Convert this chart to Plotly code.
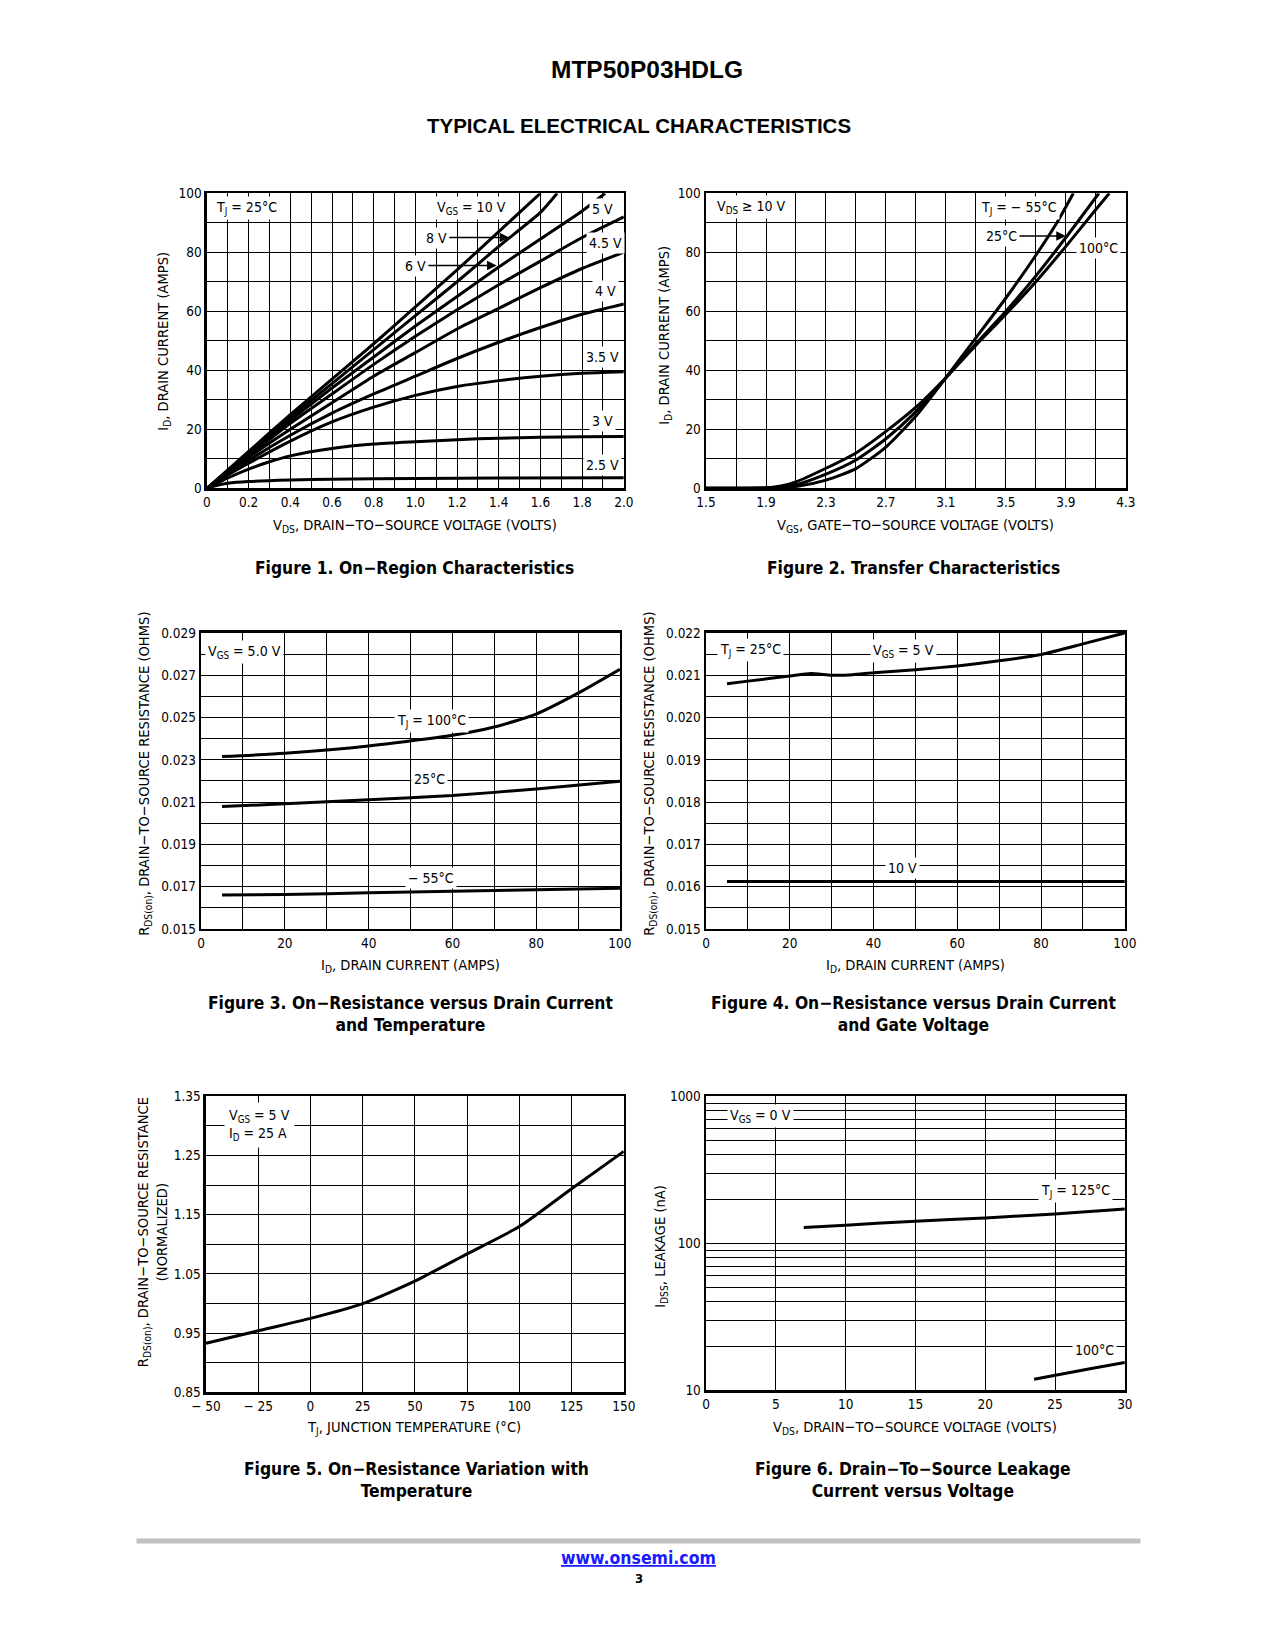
import math
import plotly.graph_objects as go

# Page is 1275 x 1650; the browser body keeps its default 8 px margin,
# so the figure itself is 16 px smaller and every page position is shifted by 8 px.
PAGE_W, PAGE_H = 1275, 1650
OFF = 8
FW, FH = PAGE_W - 2 * OFF, PAGE_H - 2 * OFF
NARROW = "Liberation Sans Narrow, Arial Narrow, DejaVu Sans Condensed, sans-serif"
WIDE = "Liberation Sans, Arial, Helvetica, sans-serif"

# ---------------- Figure 1: On-Region Characteristics (TJ = 25C) ----------------
f1_vds_10v = [0, 0.2, 0.4, 0.6, 0.8, 1.0, 1.2, 1.4, 1.6]
f1_id_10v = [0, 12.5, 25, 37, 49, 61.5, 74, 87, 100]
f1_vds_8v = [0, 0.2, 0.4, 0.6, 0.8, 1.0, 1.2, 1.4, 1.6, 1.68]
f1_id_8v = [0, 12, 24, 35.5, 47, 58.5, 70, 82, 93.5, 100]
f1_vds_6v = [0, 0.2, 0.4, 0.6, 0.8, 1.0, 1.2, 1.4, 1.6, 1.8, 1.91]
f1_id_6v = [0, 11.5, 23, 34, 44.5, 55, 65, 75, 84.5, 94, 100]
f1_vds_5v = [0, 0.2, 0.4, 0.6, 0.8, 1.0, 1.2, 1.4, 1.6, 1.8, 2.0]
f1_id_5v = [0, 11, 22, 32, 42, 51.5, 60.5, 69, 77, 85, 92]
f1_vds_45v = [0, 0.2, 0.4, 0.6, 0.8, 1.0, 1.2, 1.4, 1.6, 1.8, 2.0]
f1_id_45v = [0, 10.5, 20, 29, 38, 46, 54, 61, 68, 74.5, 80]
f1_vds_4v = [0, 0.2, 0.4, 0.6, 0.8, 1.0, 1.2, 1.4, 1.6, 1.8, 2.0]
f1_id_4v = [0, 9.5, 18, 25.5, 32, 38, 44, 49.5, 54.5, 59, 62.5]
f1_vds_35v = [0, 0.1, 0.2, 0.4, 0.6, 0.8, 1.0, 1.2, 1.4, 1.6, 1.8, 2.0]
f1_id_35v = [0, 4.5, 8.5, 16, 22.5, 27.5, 31.5, 34.5, 36.5, 38, 39, 39.5]
f1_vds_3v = [0, 0.1, 0.2, 0.3, 0.4, 0.6, 0.8, 1.0, 1.2, 1.4, 1.6, 1.8, 2.0]
f1_id_3v = [0, 3.5, 6.5, 9, 11, 13.5, 15, 15.8, 16.5, 17, 17.3, 17.5, 17.6]
f1_vds_25v = [0, 0.05, 0.1, 0.2, 0.4, 0.6, 1.0, 1.4, 2.0]
f1_id_25v = [0, 1.0, 1.7, 2.3, 2.8, 3.1, 3.3, 3.5, 3.6]

# ---------------- Figure 2: Transfer Characteristics ----------------
f2_vgs_m55 = [1.5, 1.8, 1.95, 2.1, 2.3, 2.5, 2.7, 2.9, 3.1, 3.3, 3.5, 3.7, 3.84, 3.95]
f2_id_m55 = [0, 0, 0.1, 0.6, 2.8, 6.7, 14, 24.5, 37.5, 51, 64.5, 79, 90, 100]
f2_vgs_25 = [1.5, 1.8, 1.95, 2.1, 2.3, 2.5, 2.7, 2.9, 3.1, 3.3, 3.5, 3.7, 3.9, 4.12]
f2_id_25 = [0, 0, 0.2, 1.2, 4.8, 9.6, 16.8, 26, 37.5, 49, 60, 72, 85, 100]
f2_vgs_100 = [1.5, 1.75, 1.9, 2.0, 2.1, 2.3, 2.5, 2.7, 2.9, 3.1, 3.3, 3.5, 3.7, 3.9, 4.1, 4.19]
f2_id_100 = [0, 0, 0.2, 0.8, 2.2, 6.8, 12, 19.3, 27.5, 37.5, 48.5, 59, 70, 82, 94.5, 100]

# ---------------- Figure 3: RDS(on) vs ID and temperature ----------------
f3_id = [5, 20, 40, 60, 70, 80, 90, 100]
f3_r_100 = [0.02315, 0.02331, 0.02365, 0.02416, 0.02455, 0.02516, 0.02615, 0.02728]
f3_id_b = [5, 20, 40, 60, 80, 100]
f3_r_25 = [0.02079, 0.02092, 0.02111, 0.02131, 0.02162, 0.02198]
f3_r_m55 = [0.01661, 0.01663, 0.01671, 0.01678, 0.01686, 0.01692]

# ---------------- Figure 4: RDS(on) vs ID and gate voltage ----------------
f4_id_5v = [5, 10, 20, 25, 30, 35, 40, 50, 60, 70, 80, 90, 100]
f4_r_5v = [0.0208, 0.02086, 0.02098, 0.02104, 0.0210, 0.02101, 0.02106, 0.02113,
           0.02122, 0.02134, 0.02149, 0.02174, 0.0220]
f4_id_10v = [5, 100]
f4_r_10v = [0.01612, 0.01612]

# ---------------- Figure 5: normalized RDS(on) vs TJ ----------------
f5_tj = [-50, -25, 0, 25, 50, 75, 100, 125, 150]
f5_r = [0.933, 0.954, 0.975, 1.0, 1.038, 1.084, 1.130, 1.194, 1.257]

# ---------------- Figure 6: IDSS leakage vs VDS ----------------
f6_vds_125 = [7, 10, 15, 20, 25, 28, 30]
f6_i_125 = [128, 133, 141.6, 149, 158.5, 166, 171]
f6_vds_100 = [23.5, 27.6, 30]
f6_i_100 = [11.9, 14.1, 15.5]

# ---------------- tick labels ----------------
f1_xticks = [0, 0.2, 0.4, 0.6, 0.8, 1.0, 1.2, 1.4, 1.6, 1.8, 2.0]
f1_xtext = ["0", "0.2", "0.4", "0.6", "0.8", "1.0", "1.2", "1.4", "1.6", "1.8", "2.0"]
f12_yticks = [0, 20, 40, 60, 80, 100]
f2_xticks = [1.5, 1.9, 2.3, 2.7, 3.1, 3.5, 3.9, 4.3]
f2_xtext = ["1.5", "1.9", "2.3", "2.7", "3.1", "3.5", "3.9", "4.3"]
f34_xticks = [0, 20, 40, 60, 80, 100]
f3_yticks = [0.015, 0.017, 0.019, 0.021, 0.023, 0.025, 0.027, 0.029]
f4_yticks = [0.015, 0.016, 0.017, 0.018, 0.019, 0.020, 0.021, 0.022]
f5_xticks = [-50, -25, 0, 25, 50, 75, 100, 125, 150]
f5_xtext = ["− 50", "− 25", "0", "25", "50", "75", "100", "125", "150"]
f5_yticks = [0.85, 0.95, 1.05, 1.15, 1.25, 1.35]
f6_xticks = [0, 5, 10, 15, 20, 25, 30]
f6_yticks = [10, 100, 1000]
f6_yminor = [k * 10 ** d for d in (1, 2) for k in range(2, 10)]

fig = go.Figure()

def curve(x, y, ax):
    fig.add_trace(go.Scatter(x=x, y=y, mode="lines", xaxis="x" + ax, yaxis="y" + ax,
                             line=dict(color="black", width=3, shape="spline", smoothing=0.6),
                             showlegend=False, hoverinfo="skip"))

for xs, ys in [(f1_vds_10v, f1_id_10v), (f1_vds_8v, f1_id_8v), (f1_vds_6v, f1_id_6v),
               (f1_vds_5v, f1_id_5v), (f1_vds_45v, f1_id_45v), (f1_vds_4v, f1_id_4v),
               (f1_vds_35v, f1_id_35v), (f1_vds_3v, f1_id_3v), (f1_vds_25v, f1_id_25v)]:
    curve(xs, ys, "")
for xs, ys in [(f2_vgs_m55, f2_id_m55), (f2_vgs_25, f2_id_25), (f2_vgs_100, f2_id_100)]:
    curve(xs, ys, "2")
curve(f3_id, f3_r_100, "3")
curve(f3_id_b, f3_r_25, "3")
curve(f3_id_b, f3_r_m55, "3")
curve(f4_id_5v, f4_r_5v, "4")
curve(f4_id_10v, f4_r_10v, "4")
curve(f5_tj, f5_r, "5")
curve(f6_vds_125, f6_i_125, "6")
curve(f6_vds_100, f6_i_100, "6")

def px_x(p):
    """page pixel -> paper fraction"""
    return (p - OFF) / FW

def px_y(p):
    return 1 - (p - OFF) / FH

def axis(domain_px, anchor, rng, tickvals, ticktext=None, minor=None, log=False, vertical=False):
    if vertical:
        dom = [px_y(domain_px[1]), px_y(domain_px[0])]
    else:
        dom = [px_x(domain_px[0]), px_x(domain_px[1])]
    d = dict(domain=dom, anchor=anchor, range=rng, tickmode="array", tickvals=tickvals,
             showline=True, linecolor="black", linewidth=2.5, mirror=True,
             showgrid=True, gridcolor="black", gridwidth=1, zeroline=False,
             ticks="", tickfont=dict(family=NARROW, size=13.5, color="black"),
             fixedrange=True, layer="below traces")
    if ticktext is not None:
        d["ticktext"] = ticktext
    if log:
        d["type"] = "log"
    if minor is not None:
        m = dict(showgrid=True, gridcolor="black", gridwidth=1, ticks="")
        m.update(minor)
        d["minor"] = m
    return d

layout = dict(
    width=FW, height=FH, autosize=False, paper_bgcolor="white", plot_bgcolor="white",
    margin=dict(l=0, r=0, t=0, b=0), showlegend=False,
    xaxis=axis((196, 622), "y", [0, 2], f1_xticks, f1_xtext, dict(tick0=0, dtick=0.1)),
    yaxis=axis((187, 485), "x", [0, 100], f12_yticks, None, dict(tick0=0, dtick=10), vertical=True),
    xaxis2=axis((706, 1135), "y2", [1.5, 4.3], f2_xticks, f2_xtext, dict(tick0=1.5, dtick=0.2)),
    yaxis2=axis((187, 485), "x2", [0, 100], f12_yticks, None, dict(tick0=0, dtick=10), vertical=True),
    xaxis3=axis((190, 618), "y3", [0, 100], f34_xticks, None, dict(tick0=0, dtick=10)),
    yaxis3=axis((631, 930), "x3", [0.015, 0.029], f3_yticks, [f"{v:.3f}" for v in f3_yticks],
                dict(tick0=0.015, dtick=0.001), vertical=True),
    xaxis4=axis((706, 1134), "y4", [0, 100], f34_xticks, None, dict(tick0=0, dtick=10)),
    yaxis4=axis((631, 930), "x4", [0.015, 0.022], f4_yticks, [f"{v:.3f}" for v in f4_yticks],
                dict(tick0=0.015, dtick=0.0005), vertical=True),
    xaxis5=axis((195, 622), "y5", [-50, 150], f5_xticks, f5_xtext, dict(tick0=-50, dtick=25)),
    yaxis5=axis((1099, 1398), "x5", [0.85, 1.35], f5_yticks, [f"{v:.2f}" for v in f5_yticks],
                dict(tick0=0.85, dtick=0.05), vertical=True),
    xaxis6=axis((706, 1134), "y6", [0, 30], f6_xticks, None, dict(tick0=0, dtick=5)),
    yaxis6=axis((1099, 1396), "x6", [1, 3], f6_yticks, ["10", "100", "1000"],
                dict(tickmode="array", tickvals=f6_yminor), log=True, vertical=True),
)
fig.update_layout(**layout)

ann = []

def label(text, x, y, ax="", size=14, **kw):
    d = dict(text=text, x=x, y=y, xref="x" + ax, yref="y" + ax, showarrow=False,
             font=dict(family=NARROW, size=size, color="black"), bgcolor="white",
             borderpad=2, xanchor="center", yanchor="middle")
    d.update(kw)
    ann.append(d)

def arrow_label(text, x, y, tx, ty, ax=""):
    ann.append(dict(text=text, x=x, y=y, ax=tx, ay=ty, xref="x" + ax, yref="y" + ax,
                    axref="x" + ax, ayref="y" + ax, showarrow=True, arrowhead=2,
                    arrowsize=1.2, arrowwidth=1.6, arrowcolor="black", standoff=0,
                    font=dict(family=NARROW, size=14, color="black"), bgcolor="white",
                    borderpad=2))

# Figure 1 labels
label("T<sub>J</sub> = 25°C", 0.19, 95)
label("V<sub>GS</sub> = 10 V", 1.27, 95)
arrow_label("8 V", 1.45, 85, 1.10, 85)
arrow_label("6 V", 1.39, 75.5, 1.0, 75.5)
label("5 V", 1.90, 94.5)
label("4.5 V", 1.91, 83.3)
label("4 V", 1.91, 67)
label("3.5 V", 1.90, 44.4)
label("3 V", 1.90, 22.9)
label("2.5 V", 1.90, 8.0)

# Figure 2 labels
label("V<sub>DS</sub> ≥ 10 V", 1.80, 95.4, "2")
label("T<sub>J</sub> = − 55°C", 3.59, 95, "2")
arrow_label("25°C", 3.90, 85.5, 3.47, 85.5, "2")
label("100°C", 4.12, 81.6, "2")

# Figure 3 labels
label("V<sub>GS</sub> = 5.0 V", 10.4, 0.0281, "3")
label("T<sub>J</sub> = 100°C", 55, 0.02483, "3")
label("25°C", 54.6, 0.02207, "3")
label("− 55°C", 55, 0.01743, "3")

# Figure 4 labels
label("T<sub>J</sub> = 25°C", 10.7, 0.02159, "4")
label("V<sub>GS</sub> = 5 V", 47.2, 0.02157, "4")
label("10 V", 46.9, 0.016444, "4")

# Figure 5 labels
label("V<sub>GS</sub> = 5 V<br>I<sub>D</sub> = 25 A", -41.5, 1.301, "5", align="left",
      xanchor="left", borderpad=4)

# Figure 6 labels
label("V<sub>GS</sub> = 0 V", 3.9, math.log10(733), "6")
label("T<sub>J</sub> = 125°C", 26.5, math.log10(228), "6")
label("100°C", 27.8, math.log10(18.7), "6")

def ptext(text, x, y, size=14.6, family=NARROW, angle=0, color="black", **kw):
    d = dict(text=text, x=px_x(x), y=px_y(y), xref="paper", yref="paper", showarrow=False,
             font=dict(family=family, size=size, color=color), textangle=angle,
             xanchor="center", yanchor="middle")
    d.update(kw)
    ann.append(d)

# Page titles
ptext("<b>MTP50P03HDLG</b>", 646, 62, size=24.5, family=WIDE)
ptext("<b>TYPICAL ELECTRICAL CHARACTERISTICS</b>", 637, 119, size=20.5, family=WIDE)

# Axis titles
ptext("V<sub>DS</sub>, DRAIN−TO−SOURCE VOLTAGE (VOLTS)", 409, 523)
ptext("I<sub>D</sub>, DRAIN CURRENT (AMPS)", 152, 336, angle=-90)
ptext("V<sub>GS</sub>, GATE−TO−SOURCE VOLTAGE (VOLTS)", 920, 523)
ptext("I<sub>D</sub>, DRAIN CURRENT (AMPS)", 664, 330, angle=-90)
ptext("I<sub>D</sub>, DRAIN CURRENT (AMPS)", 404, 967)
ptext("R<sub>DS(on)</sub>, DRAIN−TO−SOURCE RESISTANCE (OHMS)", 132, 773, angle=-90)
ptext("I<sub>D</sub>, DRAIN CURRENT (AMPS)", 920, 967)
ptext("R<sub>DS(on)</sub>, DRAIN−TO−SOURCE RESISTANCE (OHMS)", 648, 773, angle=-90)
ptext("T<sub>J</sub>, JUNCTION TEMPERATURE (°C)", 408, 1433)
ptext("R<sub>DS(on)</sub>, DRAIN−TO−SOURCE RESISTANCE<br>(NORMALIZED)", 140, 1236, angle=-90)
ptext("V<sub>DS</sub>, DRAIN−TO−SOURCE VOLTAGE (VOLTS)", 920, 1433)
ptext("I<sub>DSS</sub>, LEAKAGE (nA)", 660, 1251, angle=-90)

# Captions
CAP = 17.3
ptext("<b>Figure 1. On−Region Characteristics</b>", 408, 565, size=CAP)
ptext("<b>Figure 2. Transfer Characteristics</b>", 918, 565, size=CAP)
ptext("<b>Figure 3. On−Resistance versus Drain Current<br>and Temperature</b>", 404, 1016, size=CAP)
ptext("<b>Figure 4. On−Resistance versus Drain Current<br>and Gate Voltage</b>", 918, 1016, size=CAP)
ptext("<b>Figure 5. On−Resistance Variation with<br>Temperature</b>", 410, 1486, size=CAP)
ptext("<b>Figure 6. Drain−To−Source Leakage<br>Current versus Voltage</b>", 918, 1486, size=CAP)

# Footer
ptext("<b><u>www.onsemi.com</u></b>", 637, 1565, size=17.5, color="#1a1aff")
ptext("<b>3</b>", 637, 1586, size=13)

fig.update_layout(annotations=ann)
fig.add_shape(type="line", xref="paper", yref="paper", x0=px_x(124), x1=px_x(1150),
              y0=px_y(1548), y1=px_y(1548), line=dict(color="#c0c0c0", width=5))

fig.write_html("out.html", config={"displayModeBar": False, "staticPlot": True})
